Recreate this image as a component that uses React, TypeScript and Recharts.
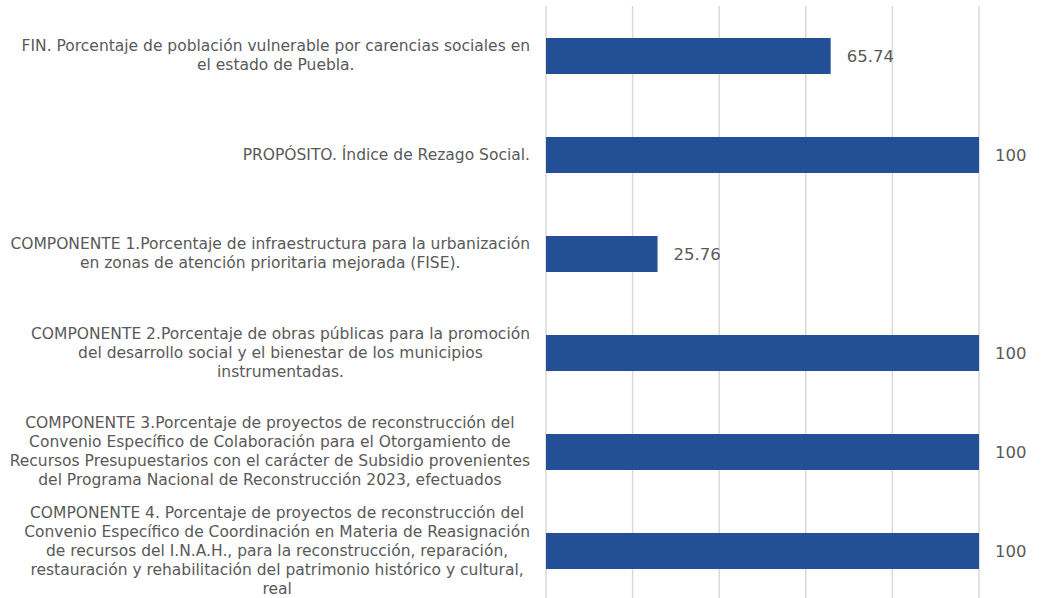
import { BarChart, Bar, XAxis, YAxis, CartesianGrid, LabelList } from "recharts";

// indicadores (cada elemento = líneas de la etiqueta)
const categories: string[][] = [
  [
    "FIN. Porcentaje de población vulnerable por carencias sociales en",
    "el estado de Puebla.",
  ],
  ["PROPÓSITO. Índice de Rezago Social."],
  [
    "COMPONENTE 1.Porcentaje de infraestructura para la urbanización",
    "en zonas de atención prioritaria mejorada (FISE).",
  ],
  [
    "COMPONENTE 2.Porcentaje de obras públicas para la promoción",
    "del desarrollo social y el bienestar de los municipios",
    "instrumentadas.",
  ],
  [
    "COMPONENTE 3.Porcentaje de proyectos de reconstrucción del",
    "Convenio Específico de Colaboración para el Otorgamiento de",
    "Recursos Presupuestarios con el carácter de Subsidio provenientes",
    "del Programa Nacional de Reconstrucción 2023, efectuados",
  ],
  [
    "COMPONENTE 4. Porcentaje de proyectos de reconstrucción del",
    "Convenio Específico de Coordinación en Materia de Reasignación",
    "de recursos del I.N.A.H., para la reconstrucción, reparación,",
    "restauración y rehabilitación del patrimonio histórico y cultural,",
    "real",
  ],
];

const values = [65.74, 100, 25.76, 100, 100, 100];

const xTicks = [0, 20, 40, 60, 80, 100];

const data = categories.map((lines, i) => ({
  name: lines.join(" "),
  lines,
  value: values[i],
}));

const FONT = "'DejaVu Sans', sans-serif";
const LABEL_SIZE = 15.5;
const LINE_H = 19;
const TEXT_COLOR = "#595959";

// medir el ancho del texto para centrar las líneas dentro de un bloque alineado a la derecha
let ctx: CanvasRenderingContext2D | null = null;
const measure = (s: string) => {
  if (!ctx) ctx = document.createElement("canvas").getContext("2d");
  if (!ctx) return s.length * 8;
  ctx.font = `${LABEL_SIZE}px ${FONT}`;
  return ctx.measureText(s).width;
};

const CategoryTick = (props: any) => {
  const { y, payload } = props;
  const lines: string[] = categories[payload.index] ?? [String(payload.value)];
  const right = 530;
  const maxW = Math.max(...lines.map(measure));
  const cx = right - maxW / 2;
  const startY = y - ((lines.length - 1) * LINE_H) / 2;
  return (
    <text
      textAnchor="middle"
      fontFamily={FONT}
      fontSize={LABEL_SIZE}
      fill={TEXT_COLOR}
      dominantBaseline="central"
    >
      {lines.map((l, i) => (
        <tspan key={i} x={cx} y={startY + i * LINE_H}>
          {l}
        </tspan>
      ))}
    </text>
  );
};

const App = () => {
  return (
    <div style={{ position: "absolute", left: 0, top: 0, background: "#fff" }}>
      <BarChart
        width={1053}
        height={598}
        data={data}
        layout="vertical"
        margin={{ top: 6, right: 74, bottom: -2, left: 0 }}
        barCategoryGap={0}
      >
        <CartesianGrid horizontal={false} stroke="#d9d9d9" strokeWidth={1.5} />
        <XAxis type="number" domain={[0, 100]} ticks={xTicks} hide />
        <YAxis
          type="category"
          dataKey="name"
          width={546}
          axisLine={false}
          tickLine={false}
          tick={<CategoryTick />}
          interval={0}
        />
        <Bar dataKey="value" fill="#234f97" barSize={36} isAnimationActive={false}>
          <LabelList
            dataKey="value"
            position="right"
            offset={16}
            fill={TEXT_COLOR}
            fontSize={16.5}
            fontFamily={FONT}
          />
        </Bar>
      </BarChart>
    </div>
  );
};

export default App;
